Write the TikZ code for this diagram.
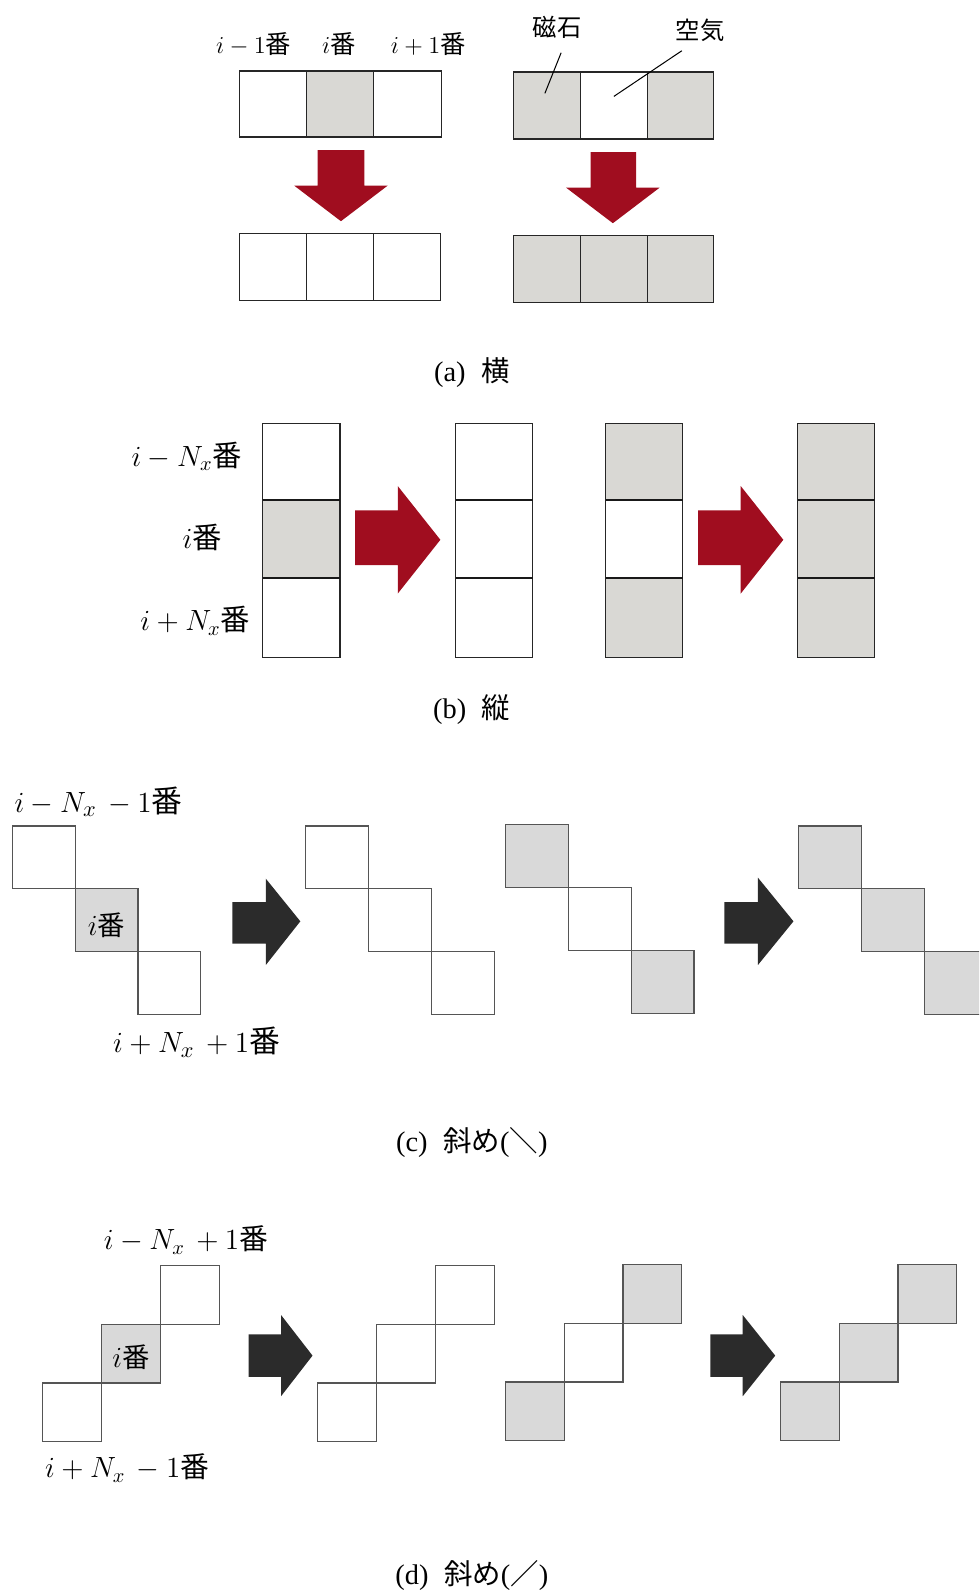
\documentclass[tikz,border=0pt]{standalone}
\usepackage{fontspec}
\setmainfont{Liberation Serif}
\newfontfamily\jp{Noto Sans CJK JP}
\definecolor{magA}{HTML}{D9D8D4}
\definecolor{magC}{HTML}{D9D9D9}
\definecolor{redarrow}{HTML}{A00D1F}
\definecolor{darkarrow}{HTML}{2B2B2B}
\definecolor{cellline}{HTML}{555555}
\begin{document}
\begin{tikzpicture}[x=0.5pt,y=-0.5pt,
  cellA/.style={draw=black!85,line width=0.6pt},
  cellC/.style={draw=cellline,line width=0.55pt},
  magnetA/.style={fill=magA},
  magnetC/.style={fill=magC},
  airbox/.style={fill=white},
  redarr/.style={fill=redarrow},
  darkarr/.style={fill=darkarrow},
  divider/.style={draw=black!90,line width=1.1pt},
  lblA/.style={font=\fontsize{12.5}{14}\selectfont, inner sep=0pt},
  lblB/.style={font=\fontsize{14.5}{16}\selectfont, inner sep=0pt},
  lblC/.style={font=\fontsize{15.2}{17}\selectfont, inner sep=0pt},
  lblD/.style={font=\fontsize{14.2}{16}\selectfont, inner sep=0pt},
  lblIn/.style={font=\fontsize{13.5}{15}\selectfont, inner sep=0pt},
  caption/.style={font=\fontsize{14}{16}\selectfont, inner sep=0pt},
  pointer/.style={draw=black,line width=0.5pt}]
\useasboundingbox (0,0) rectangle (965,1568);
\clip (0,0) rectangle (965,1568);

% ---------------- (a) ----------------
\node[lblA] (a-l1) at (250,43) {$i-1$\jp 番};
\node[lblA] (a-l2) at (334,43) {$i$\jp 番};
\node[lblA] (a-l3) at (422,43) {$i+1$\jp 番};
\draw[cellA,airbox] (236,70) rectangle (302,135);
\draw[cellA,magnetA] (302,70) rectangle (368,135);
\draw[cellA,airbox] (368,70) rectangle (435,135);
\fill[redarr] (313,148) -- (359,148) -- (359,183) -- (382,183) -- (336,218) -- (290,183) -- (313,183) -- cycle;
\draw[cellA,airbox] (236,230) rectangle (302,296);
\draw[cellA,airbox] (302,230) rectangle (368,296);
\draw[cellA,airbox] (368,230) rectangle (434,296);

\node[lblA,font=\jp\fontsize{12}{14}\selectfont] (a-mag) at (549,27) {磁石};
\node[lblA,font=\jp\fontsize{12}{14}\selectfont] (a-air) at (690,30) {空気};
\draw[cellA,magnetA] (506,71) rectangle (572,137);
\draw[cellA,airbox] (572,71) rectangle (638,137);
\draw[cellA,magnetA] (638,71) rectangle (703,137);
\coordinate (a-magpt) at (537,92);
\coordinate (a-airpt) at (605,95);
\coordinate (a-magst) at (553,52);
\coordinate (a-airst) at (672,50);
\draw[pointer] (a-magst) -- (a-magpt);
\draw[pointer] (a-airst) -- (a-airpt);
\fill[redarr] (582,150) -- (627,150) -- (627,185) -- (650,185) -- (604,220) -- (558,185) -- (582,185) -- cycle;
\draw[cellA,magnetA] (506,232) rectangle (572,298);
\draw[cellA,magnetA] (572,232) rectangle (638,298);
\draw[cellA,magnetA] (638,232) rectangle (703,298);

\node[caption] (cap-a) at (465,367) {(a)\hspace{0.55em}{\jp 横}};

% ---------------- (b) ----------------
\node[lblB,anchor=east] (b-l1) at (239,450) {$i-N_x$\jp 番};
\node[lblB,anchor=east] (b-l2) at (219,530) {$i$\jp 番};
\node[lblB,anchor=east] (b-l3) at (247,612) {$i+N_x$\jp 番};

\draw[cellA,airbox] (259,417) rectangle (335,493);
\draw[cellA,magnetA] (259,493) rectangle (335,570);
\draw[cellA,airbox] (259,570) rectangle (335,648);
\draw[divider] (259,493) -- (335,493);
\draw[divider] (259,570) -- (335,570);

\fill[redarr] (350,503) -- (392,503) -- (392,479) -- (434,532) -- (392,585) -- (392,557) -- (350,557) -- cycle;

\draw[cellA,airbox] (449,417) rectangle (525,493);
\draw[cellA,airbox] (449,493) rectangle (525,570);
\draw[cellA,airbox] (449,570) rectangle (525,648);
\draw[divider] (449,493) -- (525,493);
\draw[divider] (449,570) -- (525,570);

\draw[cellA,magnetA] (597,417) rectangle (673,493);
\draw[cellA,airbox] (597,493) rectangle (673,570);
\draw[cellA,magnetA] (597,570) rectangle (673,648);
\draw[divider] (597,493) -- (673,493);
\draw[divider] (597,570) -- (673,570);

\fill[redarr] (688,503) -- (730,503) -- (730,479) -- (772,532) -- (730,585) -- (730,557) -- (688,557) -- cycle;

\draw[cellA,magnetA] (786,417) rectangle (862,493);
\draw[cellA,magnetA] (786,493) rectangle (862,570);
\draw[cellA,magnetA] (786,570) rectangle (862,648);
\draw[divider] (786,493) -- (862,493);
\draw[divider] (786,570) -- (862,570);

\node[caption] (cap-b) at (465,699) {(b)\hspace{0.55em}{\jp 縦}};

% ---------------- (c) ----------------
\node[lblC,anchor=west] (c-l1) at (14,790) {$i-N_x\,-1$\jp 番};
\draw[cellC,airbox] (12,814) rectangle (74,876);
\draw[cellC,magnetC] (74,876) rectangle (136,938);
\draw[cellC,airbox] (136,938) rectangle (198,1000);
\node[lblIn] (c-l2) at (105,912) {$i$\jp 番};
\node[lblC,anchor=west] (c-l3) at (111,1027) {$i+N_x\,+1$\jp 番};

\fill[darkarr] (229,889) -- (262,889) -- (262,866) -- (296,908) -- (262,951) -- (262,930) -- (229,930) -- cycle;

\draw[cellC,airbox] (301,814) rectangle (363,876);
\draw[cellC,airbox] (363,876) rectangle (425,938);
\draw[cellC,airbox] (425,938) rectangle (487,1000);

\draw[cellC,magnetC] (498,813) rectangle (560,875);
\draw[cellC,airbox] (560,875) rectangle (622,937);
\draw[cellC,magnetC] (622,937) rectangle (684,999);

\fill[darkarr] (714,889) -- (747,889) -- (747,865) -- (782,908) -- (747,951) -- (747,930) -- (714,930) -- cycle;

\draw[cellC,magnetC] (787,814) rectangle (849,876);
\draw[cellC,magnetC] (849,876) rectangle (911,938);
\draw[cellC,magnetC] (911,938) rectangle (973,1000);

\node[caption] (cap-c) at (465,1126) {(c)\hspace{0.55em}{\jp 斜め}({\jp ＼})};

% ---------------- (d) ----------------
\node[lblD,anchor=west] (d-l1) at (102,1222) {$i-N_x\,+1$\jp 番};
\draw[cellC,airbox] (158,1247) rectangle (216,1305);
\draw[cellC,magnetC] (100,1305) rectangle (158,1363);
\draw[cellC,airbox] (42,1363) rectangle (100,1421);
\node[lblIn] (d-l2) at (129,1338) {$i$\jp 番};
\node[lblD,anchor=west] (d-l3) at (44,1447) {$i+N_x\,-1$\jp 番};

\fill[darkarr] (245,1315) -- (277,1315) -- (277,1296) -- (308,1336) -- (277,1376) -- (277,1357) -- (245,1357) -- cycle;

\draw[cellC,airbox] (429,1247) rectangle (487,1305);
\draw[cellC,airbox] (371,1305) rectangle (429,1363);
\draw[cellC,airbox] (313,1363) rectangle (371,1421);

\draw[cellC,magnetC] (614,1246) rectangle (672,1304);
\draw[cellC,airbox] (556,1304) rectangle (614,1362);
\draw[cellC,magnetC] (498,1362) rectangle (556,1420);

\fill[darkarr] (700,1315) -- (732,1315) -- (732,1296) -- (764,1336) -- (732,1376) -- (732,1357) -- (700,1357) -- cycle;

\draw[cellC,magnetC] (885,1246) rectangle (943,1304);
\draw[cellC,magnetC] (827,1304) rectangle (885,1362);
\draw[cellC,magnetC] (769,1362) rectangle (827,1420);

\node[caption] (cap-d) at (465,1553) {(d)\hspace{0.55em}{\jp 斜め}({\jp ／})};
\end{tikzpicture}
\end{document}
